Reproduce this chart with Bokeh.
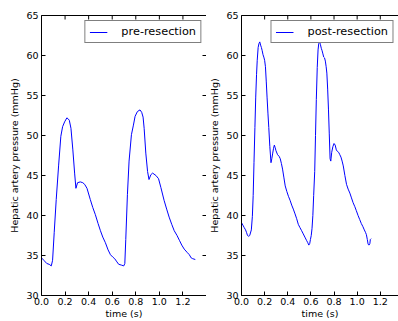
import math
from bokeh.plotting import figure
from bokeh.layouts import row
from bokeh.models import Range1d, LinearAxis, FixedTicker, NumeralTickFormatter
from bokeh.embed import file_html
from bokeh.resources import INLINE

# ---------------- data ----------------
x_ticks = [0.0, 0.2, 0.4, 0.6, 0.8, 1.0, 1.2]
y_ticks = [30, 35, 40, 45, 50, 55, 60, 65]
y_label = "Hepatic artery pressure (mmHg)"
x_label = "time (s)"

pre_label = "pre-resection"
pre_t = [0.000, 0.020, 0.045, 0.065, 0.083, 0.094, 0.108, 0.125, 0.145, 0.164,
         0.179, 0.196, 0.215, 0.225, 0.236, 0.250, 0.266, 0.281, 0.292, 0.306,
         0.329, 0.350, 0.366, 0.386, 0.414, 0.435, 0.457, 0.480, 0.500, 0.520,
         0.542, 0.565, 0.585, 0.605, 0.621, 0.640, 0.655, 0.678, 0.698, 0.707,
         0.715, 0.729, 0.743, 0.763, 0.780, 0.794, 0.814, 0.836, 0.850, 0.862,
         0.871, 0.885, 0.900, 0.912, 0.928, 0.943, 0.971, 0.993, 1.013, 1.040,
         1.062, 1.083, 1.105, 1.126, 1.150, 1.170, 1.190, 1.211, 1.235, 1.254,
         1.270, 1.283, 1.305]
pre_p = [34.7, 34.4, 34.0, 33.9, 33.7, 34.4, 37.9, 42.0, 46.2, 49.9,
         51.1, 51.7, 52.2, 52.1, 51.9, 50.9, 48.2, 45.3, 43.4, 44.1,
         44.2, 44.1, 43.9, 43.4, 42.0, 41.0, 40.1, 39.0, 38.1, 37.3,
         36.6, 35.7, 35.1, 34.8, 34.6, 34.2, 33.9, 33.8, 33.7, 34.0,
         37.0, 42.6, 46.8, 50.1, 51.3, 52.4, 53.0, 53.2, 52.9, 52.3,
         50.9, 47.8, 45.5, 44.5, 45.1, 45.3, 45.0, 44.6, 43.5, 41.9,
         40.8, 39.8, 38.9, 38.1, 37.5, 36.9, 36.3, 35.8, 35.4, 35.1,
         34.7, 34.6, 34.5]

post_label = "post-resection"
post_t = [0.000, 0.012, 0.023, 0.035, 0.043, 0.052, 0.063, 0.071, 0.085, 0.094,
          0.101, 0.108, 0.116, 0.123, 0.130, 0.136, 0.144, 0.151, 0.158, 0.165,
          0.172, 0.179, 0.186, 0.193, 0.200, 0.207, 0.214, 0.221, 0.229, 0.236,
          0.245, 0.255, 0.262, 0.270, 0.277, 0.284, 0.291, 0.298, 0.312, 0.325,
          0.335, 0.345, 0.355, 0.367, 0.378, 0.392, 0.406, 0.420, 0.434, 0.448,
          0.463, 0.477, 0.491, 0.505, 0.520, 0.534, 0.548, 0.562, 0.573, 0.582,
          0.590, 0.596, 0.603, 0.610, 0.617, 0.624, 0.633, 0.640, 0.647, 0.655,
          0.662, 0.668, 0.675, 0.682, 0.690, 0.697, 0.704, 0.711, 0.718, 0.725,
          0.732, 0.738, 0.745, 0.752, 0.759, 0.766, 0.772, 0.780, 0.790, 0.800,
          0.810, 0.820, 0.830, 0.840, 0.850, 0.860, 0.870, 0.880, 0.894, 0.908,
          0.922, 0.937, 0.951, 0.965, 0.980, 0.993, 1.008, 1.022, 1.036, 1.050,
          1.062, 1.072, 1.080, 1.088, 1.095, 1.103, 1.110, 1.114, 1.121]
post_p = [39.1, 38.8, 38.5, 38.2, 37.9, 37.5, 37.4, 37.5, 38.2, 39.9,
          42.5, 46.6, 51.0, 54.8, 57.6, 59.4, 61.0, 61.5, 61.7, 61.3,
          61.0, 60.6, 60.1, 59.8, 59.4, 58.6, 56.8, 54.8, 52.7, 51.0,
          48.6, 46.6, 47.1, 47.8, 48.4, 48.8, 48.5, 48.1, 47.6, 47.4,
          47.1, 46.5, 45.8, 44.7, 43.7, 43.0, 42.4, 41.9, 41.3, 40.8,
          40.2, 39.6, 38.9, 38.5, 38.1, 37.7, 37.3, 36.9, 36.6, 36.3,
          36.5, 37.0, 37.5, 38.4, 40.0, 42.5, 45.5, 50.0, 54.5, 58.5,
          60.7, 61.5, 61.7, 61.4, 60.9, 60.6, 60.2, 59.8, 59.7, 59.3,
          58.6, 57.8, 55.8, 53.3, 50.2, 47.1, 46.8, 47.9, 48.6, 49.0,
          48.8, 48.2, 48.0, 47.9, 47.6, 47.3, 46.8, 46.2, 45.0, 43.9,
          43.3, 42.8, 42.2, 41.6, 41.1, 40.6, 40.0, 39.5, 39.0, 38.6,
          38.2, 37.9, 37.6, 37.0, 36.4, 36.3, 36.5, 37.0, 37.1]

FONT = "DejaVu Sans"
PX_PER_UNIT = 165 / 1.4


def make_panel(t, p, label, width, border_left, frame_w, right_edge):
    x_end = frame_w / PX_PER_UNIT
    y_lo, y_hi = y_ticks[0], y_ticks[-1]
    fig = figure(width=width, height=321,
                 x_range=Range1d(0, x_end), y_range=Range1d(y_lo, y_hi),
                 output_backend="svg", toolbar_location=None,
                 min_border_left=border_left, min_border_right=0,
                 min_border_top=15, min_border_bottom=24,
                 x_axis_label=x_label, y_axis_label=y_label)
    fig.grid.visible = False
    fig.outline_line_color = None
    fig.background_fill_color = "white"
    fig.border_fill_color = "white"

    fig.line(t, p, line_color="#0000ff", line_width=1, legend_label=label)

    # inward ticks on the top edge (and right edge of the first panel)
    fig.ray(x=x_ticks, y=[y_hi] * len(x_ticks), length=4, length_units="screen",
            angle=-math.pi / 2, line_color="black", line_width=1)
    if right_edge:
        fig.ray(x=[x_end] * len(y_ticks), y=y_ticks, length=4, length_units="screen",
                angle=math.pi, line_color="black", line_width=1)

    xa = fig.xaxis[0]
    xa.ticker = FixedTicker(ticks=x_ticks)
    xa.formatter = NumeralTickFormatter(format="0.0")
    ya = fig.yaxis[0]
    ya.ticker = FixedTicker(ticks=y_ticks)
    for ax in (xa, ya):
        ax.major_tick_in = 4
        ax.major_tick_out = 0
        ax.minor_tick_in = 0
        ax.minor_tick_out = 0
        ax.axis_line_color = "black"
        ax.major_tick_line_color = "black"
        ax.major_label_text_font = FONT
        ax.major_label_text_font_size = "9.5px"
        ax.major_label_text_color = "black"
        ax.axis_label_text_font = FONT
        ax.axis_label_text_font_size = "9.5px"
        ax.axis_label_text_font_style = "normal"
        ax.axis_label_text_color = "black"
    xa.major_label_standoff = 2
    xa.axis_label_standoff = 0
    ya.major_label_standoff = 3
    ya.axis_label_standoff = 3

    def edge_axis():
        return LinearAxis(ticker=FixedTicker(ticks=[]),
                          major_tick_in=0, major_tick_out=0,
                          minor_tick_in=0, minor_tick_out=0,
                          major_label_standoff=0,
                          axis_line_color="black")

    fig.add_layout(edge_axis(), "above")
    if right_edge:
        fig.add_layout(edge_axis(), "right")

    lg = fig.legend[0]
    lg.location = "top_right"
    lg.margin = 5
    lg.padding = 4
    lg.glyph_width = 18
    lg.glyph_height = 10
    lg.label_height = 10
    lg.label_standoff = 14
    lg.label_text_font = FONT
    lg.label_text_font_size = "11.3px"
    lg.label_text_color = "black"
    lg.border_line_color = "black"
    lg.border_line_width = 1
    lg.background_fill_color = "white"
    lg.background_fill_alpha = 1.0
    return fig


p1 = make_panel(pre_t, pre_p, pre_label, 206, 41, 165, True)
p2 = make_panel(post_t, post_p, post_label, 192, 32, 160, False)

p = row(p1, p2)
open("out.html", "w").write(file_html(p, INLINE))
